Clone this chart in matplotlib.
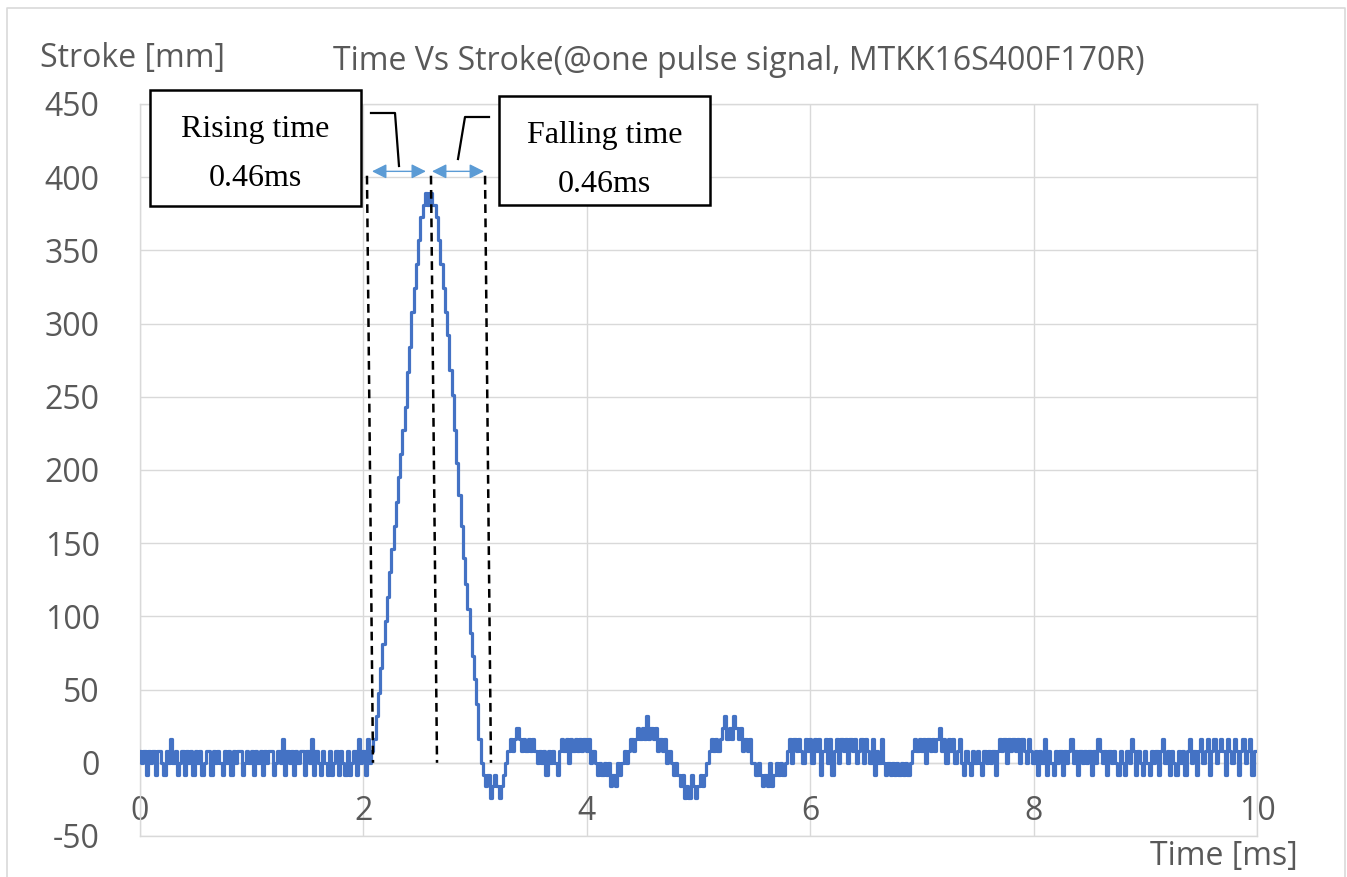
import matplotlib
matplotlib.use("Agg")
import matplotlib.pyplot as plt
import numpy as np
from matplotlib.lines import Line2D
from matplotlib.patches import Rectangle

plt.rcParams["axes.unicode_minus"] = False

# ---------------- data (stroke in mm, one sample every 0.02 ms) ----------------
stroke_ms0 = [8, 0, 8, -8, 8, 0, 8, -8, 8, 8, 0, -8, 8, 0, 16, 0, 8, -8, 0, 8, -8, 8, 0, 8, -8,
              8, 0, 8, -8, 0, 8, 8, -8, 8, 0, 8, 0, -8, 8, 0, 8, -8, 8, 0, 8, 8, -8, 0, 8, 0]
stroke_ms1 = [8, -8, 8, 0, 8, -8, 8, 0, 8, 8, -8, 0, 8, 0, 16, -8, 8, 0, 8, -8, 8, 0, 8, 8, -8,
              8, 0, 16, -8, 8, 0, -8, 8, 0, -8, 8, -8, 0, 8, -8, 8, 0, -8, 8, -8, 0, 8, -8, 16, 0]
stroke_ms2 = [8, -8, 16, 0, 8, 16, 32, 48, 65, 81, 97, 113, 130, 146, 162, 178, 195, 211, 227, 243,
              267, 284, 308, 324, 341,
              357, 373, 381, 389, 381, 389, 381, 381, 373, 357, 341, 324, 308, 292, 268, 251, 227,
              205, 183, 162, 140, 122, 105, 89, 73]
stroke_ms3 = [57, 40, 16, 0, -8, -16, -8, -24, -16, -8, -16, -24, -16, -8, 0, 8, 16, 8, 16, 24, 16, 8, 16, 8, 16,
              8, 16, 8, 0, 8, 0, 8, -8, 8, 0, 8, 0, -8, 8, 16, 8, 16, 0, 16, 8, 16, 8, 16, 8, 16]
stroke_ms4 = [8, 16, 0, 8, 0, -8, 0, -8, 0, -8, 0, -16, -8, -16, 0, -8, 0, 8, 0, 8, 16, 8, 16, 24, 16,
              24, 16, 32, 16, 24, 16, 24, 8, 16, 8, 16, 0, 8, 0, -8, 0, -8, -16, -8, -24, -16, -24, -8, -16, -24]
stroke_ms5 = [-16, -8, -16, -8, 0, 8, 16, 8, 16, 8, 16, 24, 32, 16, 24, 16, 32, 24, 16, 24, 8, 16, 8, 16, 0,
              0, -8, 0, -8, -16, -8, -16, 0, -16, -8, 0, -8, 0, -8, 0, 8, 16, 0, 16, 8, 16, 8, 0, 16, 8]
stroke_ms6 = [16, 0, 16, 8, 16, -8, 8, 16, 0, 16, -8, 8, 16, 0, 16, 8, 16, 0, 16, 8, 16, 0, 8, 16, 0,
              16, 8, 0, 16, -8, 8, 0, 16, 0, -8, 0, -8, 0, -8, 0, -8, 0, -8, 0, -8, 0, 8, 16, 8, 16]
stroke_ms7 = [8, 16, 0, 16, 8, 16, 8, 16, 24, 8, 16, 0, 16, 8, 16, 0, 8, 16, 0, -8, 8, 0, -8, 8, 0,
              8, 0, -8, 8, 0, 8, 0, 8, -8, 8, 16, 8, 16, 0, 16, 8, 16, 8, 16, 0, 16, 8, 0, 16, 8]
stroke_ms8 = [0, 8, -8, 8, 0, 16, -8, 8, 0, -8, 8, 0, 8, -8, 8, 0, 8, 16, 0, 8, -8, 8, 0, 8, 0,
              8, -8, 8, 0, 16, 8, 0, 8, -8, 8, 0, 8, 0, -8, 8, 0, -8, 8, 0, 16, 8, -8, 8, 0, -8]
stroke_ms9 = [8, 0, -8, 8, 0, 8, -8, 8, 16, 0, 8, -8, 8, 0, -8, 8, 0, 8, -8, 8, 16, 0, 8, -8, 8,
              16, 0, 8, 16, -8, 8, 16, 0, 8, 16, 8, -8, 16, 8, 0, 16, 8, -8, 8, 16, 0, 8, 16, -8, 8]
stroke_end = [8]

stroke_mm = (stroke_ms0 + stroke_ms1 + stroke_ms2 + stroke_ms3 + stroke_ms4 +
             stroke_ms5 + stroke_ms6 + stroke_ms7 + stroke_ms8 + stroke_ms9 + stroke_end)
SAMPLE_MS = 0.02
time_ms = np.arange(len(stroke_mm)) * SAMPLE_MS

x_ticks = [0, 2, 4, 6, 8, 10]
y_ticks = [-50, 0, 50, 100, 150, 200, 250, 300, 350, 400, 450]

title_text = "Time Vs Stroke(@one pulse signal, MTKK16S400F170R)"
y_label = "Stroke [mm]"
x_label = "Time [ms]"
rise_label = ["Rising time", "0.46ms"]
fall_label = ["Falling time", "0.46ms"]

# annotation geometry (data coords): dashed markers and span arrows
dash_top = [(2.032, 401), (2.605, 401), (3.089, 401)]
dash_bottom = [(2.086, 0), (2.659, 0), (3.142, 0)]
rise_span = (2.077, 2.560)
fall_span = (2.614, 3.080)
span_y = 404

# ---------------- figure ----------------
W, H = 1347, 877
fig = plt.figure(figsize=(W / 100, H / 100), dpi=100)


def fx(px):
    return px / W


def fy(py):
    return 1 - py / H


sans = ["Open Sans", "DejaVu Sans"]
serif = ["Liberation Serif", "DejaVu Serif"]
grey_txt = "#595959"
grid_c = "#d9d9d9"
FS = 23

ax = fig.add_axes([fx(140), fy(836), (1257 - 140) / W, (836 - 104) / H])
ax.plot(time_ms, stroke_mm, color="#4472c4", lw=2.3, drawstyle="steps-mid", zorder=3)
ax.set_xlim(0, 10)
ax.set_ylim(-50, 450)
ax.set_xticks(x_ticks)
ax.set_yticks(y_ticks)
ax.grid(True, color=grid_c, lw=1.0, zorder=0)
ax.set_axisbelow(True)
for s in ["left", "right", "top"]:
    ax.spines[s].set_color(grid_c)
    ax.spines[s].set_linewidth(1.0)
ax.spines["bottom"].set_position(("data", 0))
ax.spines["bottom"].set_color(grid_c)
ax.spines["bottom"].set_linewidth(1.0)
ax.axhline(-50, color=grid_c, lw=1.0, clip_on=False, zorder=0)
ax.tick_params(axis="x", length=0, pad=23, labelsize=FS, labelcolor=grey_txt)
ax.tick_params(axis="y", length=0, pad=29, labelsize=FS, labelcolor=grey_txt)
for lab in ax.get_xticklabels() + ax.get_yticklabels():
    lab.set_family(sans)

# dashed marker lines
for (x0, y0), (x1, y1) in zip(dash_top, dash_bottom):
    ax.plot([x0, x1], [y0, y1], color="black", lw=1.8, ls=(0, (3.5, 2.2)), zorder=4, clip_on=False)

# span arrows
for a, b in [rise_span, fall_span]:
    ax.annotate("", xy=(b, span_y), xytext=(a, span_y),
                arrowprops=dict(arrowstyle="<|-|>", color="#5b9bd5", lw=1.0,
                                mutation_scale=22, shrinkA=0, shrinkB=0),
                annotation_clip=False, zorder=5)

# text boxes
for (x0, y0, x1, y1), lines in [((150, 90, 361, 206), rise_label), ((499, 96, 710, 205), fall_label)]:
    fig.patches.append(Rectangle((fx(x0), fy(y1)), fx(x1) - fx(x0), fy(y0) - fy(y1),
                                 transform=fig.transFigure, facecolor="white",
                                 edgecolor="black", lw=1.8, zorder=6))
    cx = (x0 + x1) / 2
    fig.text(fx(cx), fy(y0 + 40), lines[0], ha="center", va="center", family=serif,
             fontsize=23, color="black", zorder=7)
    fig.text(fx(cx), fy(y0 + 88), lines[1], ha="center", va="center", family=serif,
             fontsize=23, color="black", zorder=7)

# leader lines
fig.add_artist(Line2D([fx(371), fx(395), fx(399)], [fy(113), fy(113), fy(166)],
                      color="black", lw=1.6, transform=fig.transFigure))
fig.add_artist(Line2D([fx(489), fx(465), fx(458)], [fy(117), fy(117), fy(159)],
                      color="black", lw=1.6, transform=fig.transFigure))

# titles / labels
fig.text(fx(739), fy(62), title_text, ha="center", va="center", family=sans,
         fontsize=FS, color=grey_txt)
fig.text(fx(40), fy(58), y_label, ha="left", va="center", family=sans,
         fontsize=FS, color=grey_txt)
fig.text(fx(1298), fy(857), x_label, ha="right", va="center", family=sans,
         fontsize=FS, color=grey_txt)

# outer chart border
fig.add_artist(Line2D([fx(7), fx(7), fx(1345), fx(1345)], [0, fy(8), fy(8), 0],
                      color=grid_c, lw=1.2, transform=fig.transFigure))

fig.savefig("out.png", dpi=100)
